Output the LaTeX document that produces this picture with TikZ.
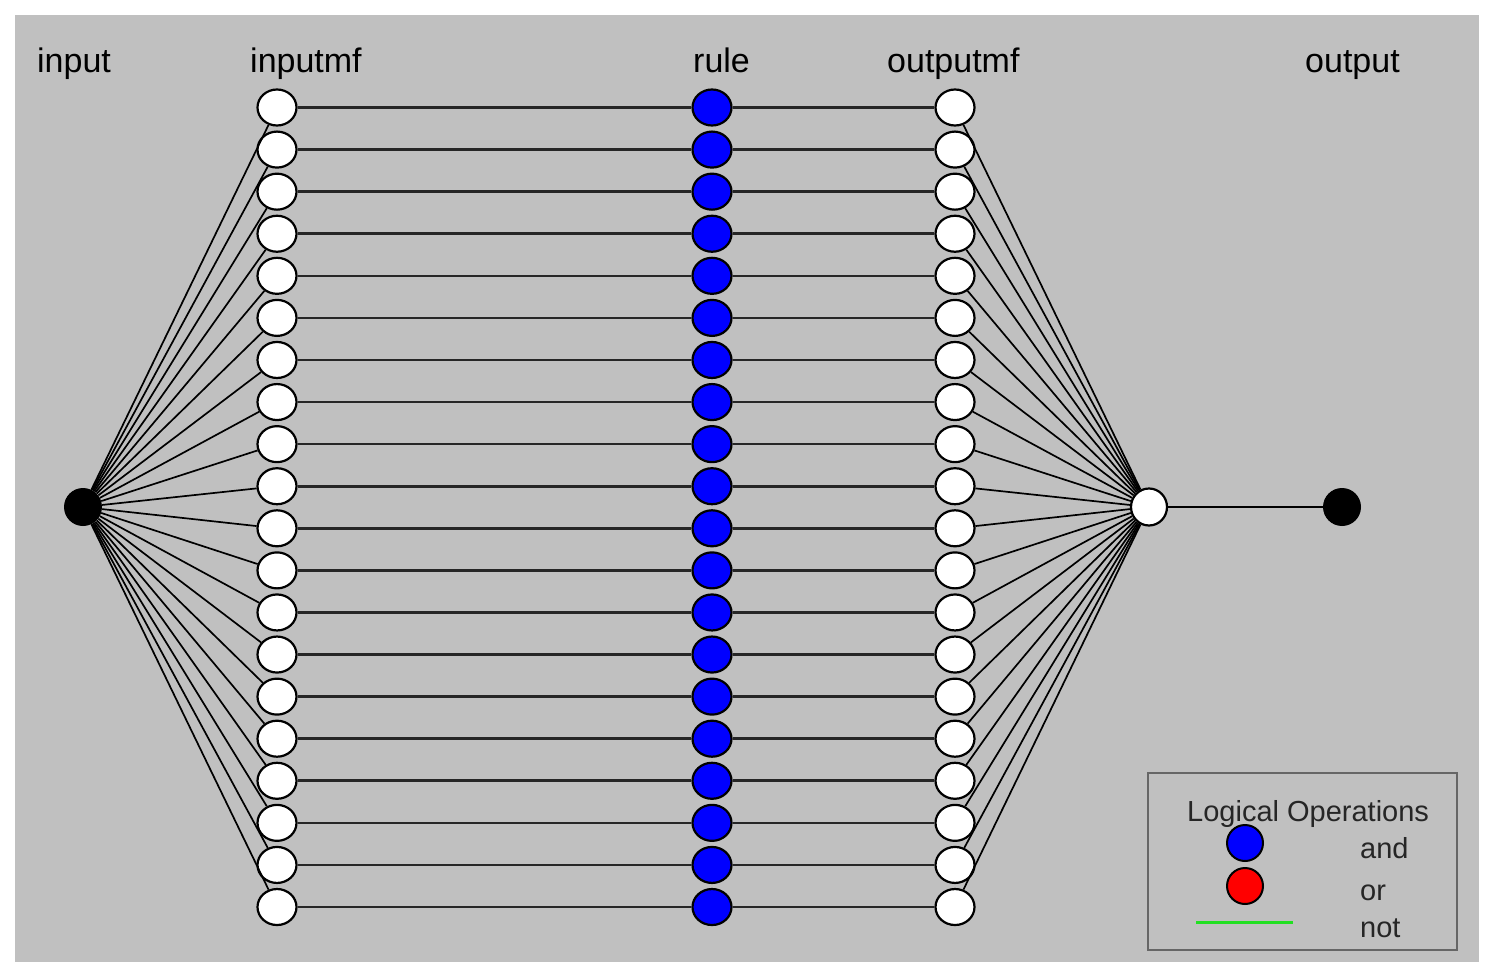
\documentclass[tikz,border=0pt]{standalone}
\usepackage{fontspec}
\setmainfont{Liberation Sans}
\usetikzlibrary{shapes.geometric}
\definecolor{bg}{HTML}{C0C0C0}
\definecolor{notgreen}{HTML}{22E022}
\begin{document}
\begin{tikzpicture}[x=1pt,y=-1pt,
  mfnode/.style={ellipse,draw=black,line width=2.2pt,fill=white,minimum width=39pt,minimum height=36pt,inner sep=0pt},
  rulenode/.style={mfnode,fill=blue},
  ionode/.style={circle,fill=black,minimum size=38pt,inner sep=0pt},
  lbl/.style={anchor=base west,inner sep=0pt,font=\fontsize{34}{40}\selectfont},
  leg/.style={anchor=base west,inner sep=0pt,text=black!85,font=\fontsize{29}{34}\selectfont},
  hline/.style={line width=2.6pt,draw=black!85},
  fan/.style={line width=1.7pt,draw=black}]
\useasboundingbox (0,0) rectangle (1493,976);
\fill[bg] (15,15) rectangle (1479,962);
\foreach \i in {1,...,20} {
  \pgfmathsetmacro\yy{107.5+(\i-1)*42.08}
  \node[mfnode] (im\i) at (277,\yy) {};
  \node[rulenode] (r\i) at (712,\yy) {};
  \node[mfnode] (om\i) at (955,\yy) {};
}
\node[ionode] (in) at (83,507) {};
\node[mfnode,minimum width=36pt,minimum height=37pt] (agg) at (1149,507) {};
\node[ionode] (out) at (1342,507) {};
\foreach \i in {1,...,20} {
  \draw[fan] (in) -- (im\i);
  \draw[hline] (im\i) -- (r\i) -- (om\i);
  \draw[fan] (om\i) -- (agg);
}
\draw[hline,draw=black] (agg) -- (out);
\node[lbl] (tin) at (37,73) {input};
\node[lbl] (timf) at (250,73) {inputmf};
\node[lbl] (trule) at (693,73) {rule};
\node[lbl] (tomf) at (887,73) {outputmf};
\node[lbl] (tout) at (1305,73) {output};
% legend
\draw[draw=black!60,line width=2.4pt] (1148,773) rectangle (1457,950);
\node[leg] (lt) at (1187,821) {Logical Operations};
\node[circle,draw=black,line width=2pt,fill=blue,minimum size=36pt,inner sep=0pt] (land) at (1245,843) {};
\node[circle,draw=black,line width=2pt,fill=red,minimum size=36pt,inner sep=0pt] (lor) at (1245,886) {};
\coordinate (g1) at (1196,922);
\coordinate (g2) at (1293,922);
\draw[notgreen,line width=3pt] (g1) -- (g2);
\node[leg] (tand) at (1360,858) {and};
\node[leg] (tor) at (1360,900) {or};
\node[leg] (tnot) at (1360,937) {not};
\end{tikzpicture}
\end{document}
